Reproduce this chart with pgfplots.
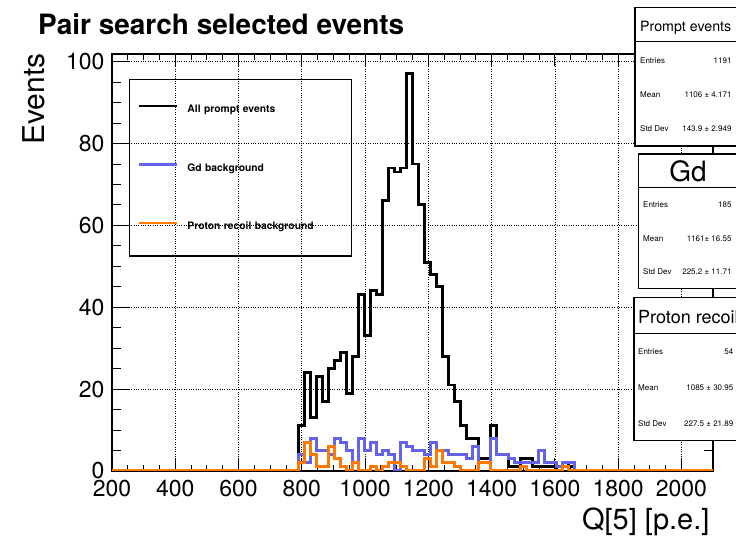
\documentclass[border=0pt]{standalone}
\usepackage{pgfplots}
\pgfplotsset{compat=1.18}
\usepackage{pgfplotstable}
\usepackage{fontspec}
\setmainfont{TeX Gyre Heros}
\newcommand{\fs}[1]{\fontsize{#1bp}{#1bp}\selectfont}
\definecolor{gdblue}{RGB}{100,100,235}
\definecolor{prorange}{RGB}{255,120,0}

% left bin edges (19 p.e. bins), counts per series
\pgfplotstableread{
x     black gd pr
200   0   0  0
789   11  4  2
808   24  2  7
827   13  8  4
846   23  5  1
865   17  5  1
884   25  4  6
903   27  8  3
922   29  7  1
941   19  5  0
960   28  2  2
979   43  8  0
998   33  5  0
1017  44  7  1
1036  43  4  0
1055  66  5  1
1074  74  4  2
1093  73  0  2
1112  74  7  1
1131  97  6  0
1150  75  5  0
1169  65  5  0
1188  51  4  3
1207  48  7  1
1226  45  5  5
1245  28  5  2
1264  21  4  2
1283  17  4  1
1302  11  4  0
1321  8   3  0
1340  8   6  0
1359  3   2  2
1378  3   2  2
1397  11  8  0
1416  4   4  0
1435  4   4  0
1454  1   3  0
1473  1   2  0
1492  3   2  1
1511  3   2  0
1530  1   2  0
1549  1   5  0
1568  1   2  0
1587  1   2  0
1606  0   1  0
1625  2   2  1
1644  1   2  0
1663  0   0  0
2100  0   0  0
}\histdata

\begin{document}
\begin{tikzpicture}
\useasboundingbox (0,0) rectangle (736bp,539bp);
\begin{axis}[
  at={(112bp,68.1bp)}, anchor=south west,
  scale only axis, width=601bp, height=416.9bp,
  xmin=200, xmax=2100, ymin=0, ymax=101.85,
  xtick={200,400,...,2000}, ytick={0,20,...,100},
  minor x tick num=3, minor y tick num=3,
  tick align=inside,
  major tick length=12.5bp, minor tick length=6.25bp,
  ytick style={/pgfplots/major tick length=18bp, /pgfplots/minor tick length=9bp},
  grid=major, major grid style={black, dotted, line width=0.6bp},
  axis line style={line width=1.3bp},
  tick style={black, line width=0.8bp},
  scaled ticks=false,
  /pgf/number format/assume math mode=true,
  /pgf/number format/1000 sep={},
  ticklabel style={font=\fs{23}},
  xticklabel style={yshift=-6bp},
  yticklabel style={xshift=-4bp},
  xlabel={Q[5] [p.e.]}, ylabel={Events},
  xlabel style={font=\fs{29}, at={(axis description cs:1,-0.1394)}, anchor=base east},
  ylabel style={font=\fs{30}, at={(axis description cs:-0.1115,1.0096)}, anchor=base east},
  legend cell align=left,
  legend style={at={(axis description cs:0.0283,0.940)}, anchor=north west,
    draw=black, line width=1.3bp, fill=none,
    inner xsep=8bp, inner ysep=25bp, row sep=49bp,
    font=\bfseries\fs{10.3},
    nodes={inner sep=0pt, text width=156bp, align=left},
    /tikz/every odd column/.append style={column sep=9bp}},
  legend image code/.code={\draw[#1] (0bp,3.5bp) -- (38bp,3.5bp);},
]
\addplot[const plot mark left, black, line width=2.8bp] table[x=x,y=black]{\histdata};
\addlegendentry{All prompt events}
\addplot[const plot mark left, gdblue, line width=2.8bp] table[x=x,y=gd]{\histdata};
\addlegendentry{Gd background}
\addplot[const plot mark left, prorange, line width=2.8bp] table[x=x,y=pr]{\histdata};
\addlegendentry{Proton recoil background}
\end{axis}

\node[anchor=base west, font=\bfseries\fs{28}, inner sep=0pt] at (38bp,504bp) {Pair search selected events};

\begin{scope}[x=1bp,y=-1bp,yshift=539bp]
\clip (0,0) rectangle (736,539);
% prompt events
\draw[line width=1.3bp, fill=white] (635,7.3) rectangle (745,146);
\draw[line width=1.3bp] (635,41.7) -- (745,41.7);
\node[anchor=base west, inner sep=0pt, font=\fs{14.2}] at (640,31.7) {Prompt events};
\node[anchor=base west, inner sep=0pt, font=\fs{8}] at (640,63.6) {Entries};
\node[anchor=base east, inner sep=0pt, font=\fs{8}] at (731.7,63.6) {1191};
\node[anchor=base west, inner sep=0pt, font=\fs{8}] at (640,97.2) {Mean};
\node[anchor=base east, inner sep=0pt, font=\fs{8}] at (731.7,97.2) {1106 ± 4.171};
\node[anchor=base west, inner sep=0pt, font=\fs{8}] at (640,131.2) {Std Dev};
\node[anchor=base east, inner sep=0pt, font=\fs{8}] at (731.7,131.2) {143.9 ± 2.949};
% Gd
\draw[line width=1.3bp, fill=white] (638.3,154) rectangle (745,288.3);
\draw[line width=1.3bp] (638.3,187.7) -- (745,187.7);
\node[anchor=base, inner sep=0pt, font=\fs{28}] at (688,181.7) {Gd};
\node[anchor=base west, inner sep=0pt, font=\fs{8}] at (643,208) {Entries};
\node[anchor=base east, inner sep=0pt, font=\fs{8}] at (731.7,208) {185};
\node[anchor=base west, inner sep=0pt, font=\fs{8}] at (643,242) {Mean};
\node[anchor=base east, inner sep=0pt, font=\fs{8}] at (731.7,242) {1161± 16.55};
\node[anchor=base west, inner sep=0pt, font=\fs{8}] at (643,275) {Std Dev};
\node[anchor=base east, inner sep=0pt, font=\fs{8}] at (731.7,275) {225.2 ± 11.71};
% proton recoil
\draw[line width=1.3bp, fill=white] (634,297.7) rectangle (745,440.7);
\draw[line width=1.3bp] (634,333.3) -- (745,333.3);
\node[anchor=base west, inner sep=0pt, font=\fs{18}] at (638,323.3) {Proton recoil};
\node[anchor=base west, inner sep=0pt, font=\fs{8}] at (638,354.6) {Entries};
\node[anchor=base east, inner sep=0pt, font=\fs{8}] at (733.5,354.6) {54};
\node[anchor=base west, inner sep=0pt, font=\fs{8}] at (638,390.2) {Mean};
\node[anchor=base east, inner sep=0pt, font=\fs{8}] at (733.5,390.2) {1085 ± 30.95};
\node[anchor=base west, inner sep=0pt, font=\fs{8}] at (638,426.2) {Std Dev};
\node[anchor=base east, inner sep=0pt, font=\fs{8}] at (733.5,426.2) {227.5 ± 21.89};
\end{scope}
\end{tikzpicture}
\end{document}
